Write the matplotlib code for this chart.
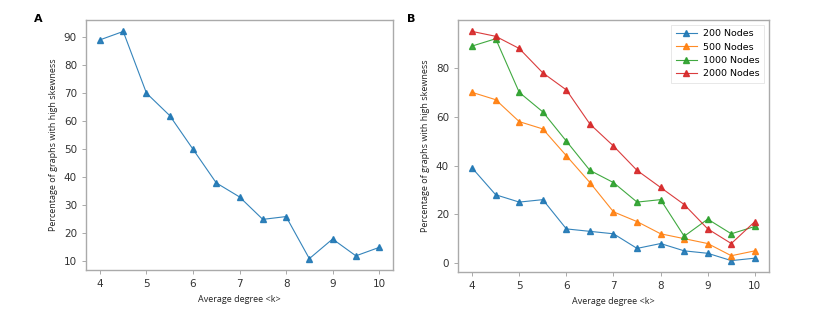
import numpy as np
import matplotlib
matplotlib.use("Agg")
import matplotlib.pyplot as plt

degree = [4, 4.5, 5, 5.5, 6, 6.5, 7, 7.5, 8, 8.5, 9, 9.5, 10]
pct_all = [89, 92, 70, 62, 50, 38, 33, 25, 26, 11, 18, 12, 15]

nodes_200 = [39, 28, 25, 26, 14, 13, 12, 6, 8, 5, 4, 1, 2]
nodes_500 = [70, 67, 58, 55, 44, 33, 21, 17, 12, 10, 8, 3, 5]
nodes_1000 = [89, 92, 70, 62, 50, 38, 33, 25, 26, 11, 18, 12, 15]
nodes_2000 = [95, 93, 88, 78, 71, 57, 48, 38, 31, 24, 14, 8, 17]
series_labels = ["200 Nodes", "500 Nodes", "1000 Nodes", "2000 Nodes"]
colors = ["#1f77b4", "#ff7f0e", "#2ca02c", "#d62728"]

spine_col = "#aaaaaa"
lab_font = "Open Sans"


def style_axes(ax):
    for s in ax.spines.values():
        s.set_color(spine_col)
        s.set_linewidth(1.0)
    ax.tick_params(colors="#333333", labelsize=7.5, length=3, width=0.7)
    ax.tick_params(axis="both", color=spine_col)
    ax.set_xlabel("Average degree <k>", fontsize=6.5, family=lab_font, color="#222222")
    ax.set_ylabel("Percentage of graphs with high skewness", fontsize=6.5,
                  family=lab_font, color="#222222")


fig = plt.figure(figsize=(8.3, 3.12), dpi=100)
ax1 = fig.add_axes([0.1036, 0.1346, 0.370, 0.801])
ax2 = fig.add_axes([0.5518, 0.128, 0.3747, 0.808])

ax1.plot(degree, pct_all, marker="^", color=colors[0], lw=0.8, ms=4, alpha=0.9)
style_axes(ax1)

for vals, lab, c in zip([nodes_200, nodes_500, nodes_1000, nodes_2000], series_labels, colors):
    ax2.plot(degree, vals, marker="^", color=c, lw=0.8, ms=4, alpha=0.9, label=lab)
style_axes(ax2)
ax2.set_yticks([0, 20, 40, 60, 80])
leg = ax2.legend(loc="upper right", fontsize=6.8, frameon=True, fancybox=False,
                 borderpad=0.5, handlelength=2.3, handletextpad=0.6,
                 labelspacing=0.45, borderaxespad=0.5)
leg.get_frame().set_edgecolor("#dddddd")
leg.get_frame().set_linewidth(0.6)

fig.text(0.046, 0.94, "A", fontsize=8, fontweight="bold", ha="center", va="center")
fig.text(0.495, 0.94, "B", fontsize=8, fontweight="bold", ha="center", va="center")

fig.savefig("out.png", dpi=100)
